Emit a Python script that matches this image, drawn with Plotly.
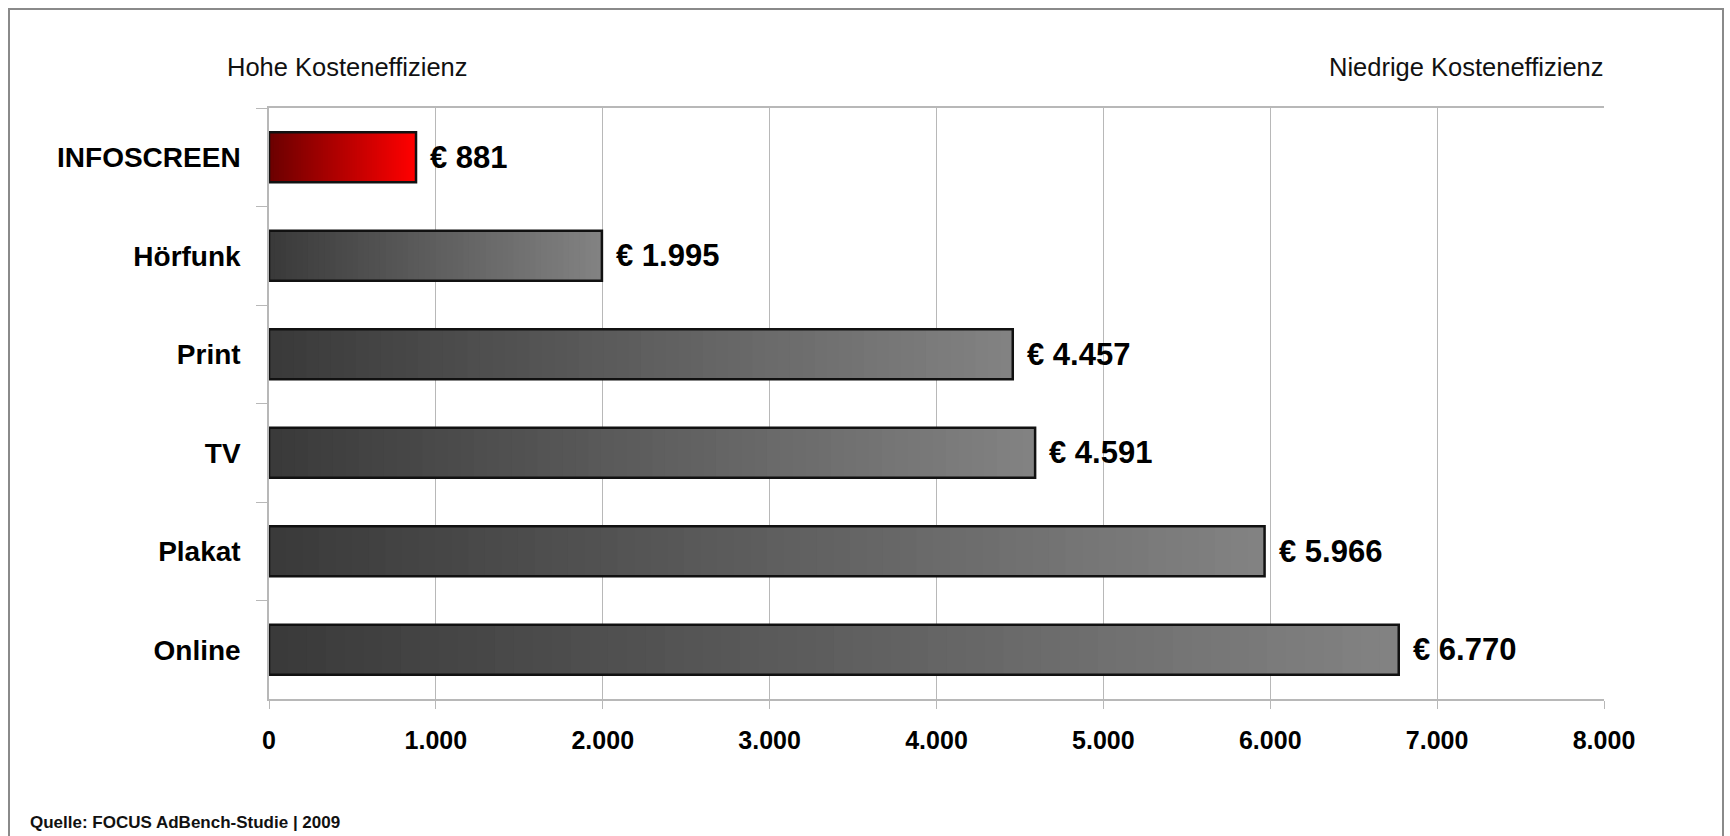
import plotly.graph_objects as go

# ---- data ----
categories = ["INFOSCREEN", "Hörfunk", "Print", "TV", "Plakat", "Online"]
values = [881, 1995, 4457, 4591, 5966, 6770]
value_labels = ["€ 881", "€ 1.995", "€ 4.457", "€ 4.591", "€ 5.966", "€ 6.770"]
tick_values = [0, 1000, 2000, 3000, 4000, 5000, 6000, 7000, 8000]
tick_labels = ["0", "1.000", "2.000", "3.000", "4.000", "5.000", "6.000", "7.000", "8.000"]
header_left = "Hohe Kosteneffizienz"
header_right = "Niedrige Kosteneffizienz"
source_text = "Quelle: FOCUS AdBench-Studie | 2009"

# ---- layout geometry (pixels) ----
W, H = 1730, 836
L, R, T, B = 269, 1604, 108, 699


def px_x(p):
    return (p - L) / (R - L)


def px_y(p):
    return 1 - (p - T) / (B - T)


SANS = "Liberation Sans, Arial, sans-serif"

# gradient colour ends
red_start, red_end = (108, 0, 0), (255, 0, 0)
gray_start, gray_end = (58, 58, 58), (130, 130, 130)


def mix(c0, c1, t):
    return "rgb(%d,%d,%d)" % tuple(round(a + (b - a) * t) for a, b in zip(c0, c1))


BAR_W = 0.51
N = 60
fig = go.Figure()
for i in range(N):
    t = i / (N - 1)
    cols = [mix(red_start, red_end, t) if c == "INFOSCREEN" else mix(gray_start, gray_end, t)
            for c in categories]
    fig.add_trace(go.Bar(
        y=categories,
        x=[v * (N - i) / N for v in values],
        base=[v * i / N for v in values],
        orientation="h",
        width=BAR_W,
        marker=dict(color=cols, line=dict(width=0)),
        hoverinfo="skip",
        showlegend=False,
    ))

# outline of each bar
fig.add_trace(go.Bar(
    y=categories,
    x=values,
    orientation="h",
    width=BAR_W,
    marker=dict(color="rgba(0,0,0,0)", line=dict(color="#111111", width=2.5)),
    showlegend=False,
    hovertemplate="%{y}: %{x}<extra></extra>",
))

annotations = []
for c, v, lab in zip(categories, values, value_labels):
    annotations.append(dict(
        x=v, y=c, xref="x", yref="y", text="<b>%s</b>" % lab, showarrow=False,
        xanchor="left", yanchor="middle", xshift=12,
        font=dict(family=SANS, size=31, color="#000000"),
    ))

annotations += [
    dict(x=px_x(225), y=px_y(67), xref="paper", yref="paper", text=header_left,
         showarrow=False, xanchor="left", yanchor="middle",
         font=dict(family=SANS, size=25.5, color="#111111")),
    dict(x=px_x(1606), y=px_y(67), xref="paper", yref="paper", text=header_right,
         showarrow=False, xanchor="right", yanchor="middle",
         font=dict(family=SANS, size=25.5, color="#111111")),
    dict(x=px_x(28), y=px_y(822), xref="paper", yref="paper", text="<b>%s</b>" % source_text,
         showarrow=False, xanchor="left", yanchor="middle",
         font=dict(family=SANS, size=17, color="#111111")),
]

shapes = [dict(
    type="rect", xref="paper", yref="paper",
    x0=px_x(9), x1=px_x(1723), y0=px_y(860), y1=px_y(9),
    line=dict(color="#8a8a8a", width=2), fillcolor="rgba(0,0,0,0)", layer="below",
)]

fig.update_layout(
    width=W, height=H,
    margin=dict(l=L, r=W - R, t=T, b=H - B, pad=0),
    paper_bgcolor="white", plot_bgcolor="white",
    barmode="overlay",
    showlegend=False,
    annotations=annotations,
    shapes=shapes,
    xaxis=dict(
        range=[0, 8000], tickmode="array", tickvals=tick_values, ticktext=tick_labels,
        showgrid=True, gridcolor="#b8b8b8", gridwidth=1.3,
        showline=True, linecolor="#b8b8b8", linewidth=1.5, mirror=True,
        ticks="outside", ticklen=8, tickcolor="#b8b8b8", tickwidth=1.3,
        tickfont=dict(family=SANS, size=25, color="#000000", weight="bold"),
        ticklabelstandoff=10,
        zeroline=False, fixedrange=True,
    ),
    yaxis=dict(
        categoryorder="array", categoryarray=categories, autorange="reversed",
        showgrid=False, showline=True, linecolor="#b8b8b8", linewidth=1.5,
        ticks="outside", ticklen=11, tickcolor="#b8b8b8", tickwidth=1.3,
        tickson="boundaries",
        tickfont=dict(family=SANS, size=28, color="#000000", weight="bold"),
        ticklabelstandoff=21,
        fixedrange=True,
    ),
)

fig.write_html(
    "out.html",
    config={"displayModeBar": False},
    post_script="document.body.style.margin='0';",
)
